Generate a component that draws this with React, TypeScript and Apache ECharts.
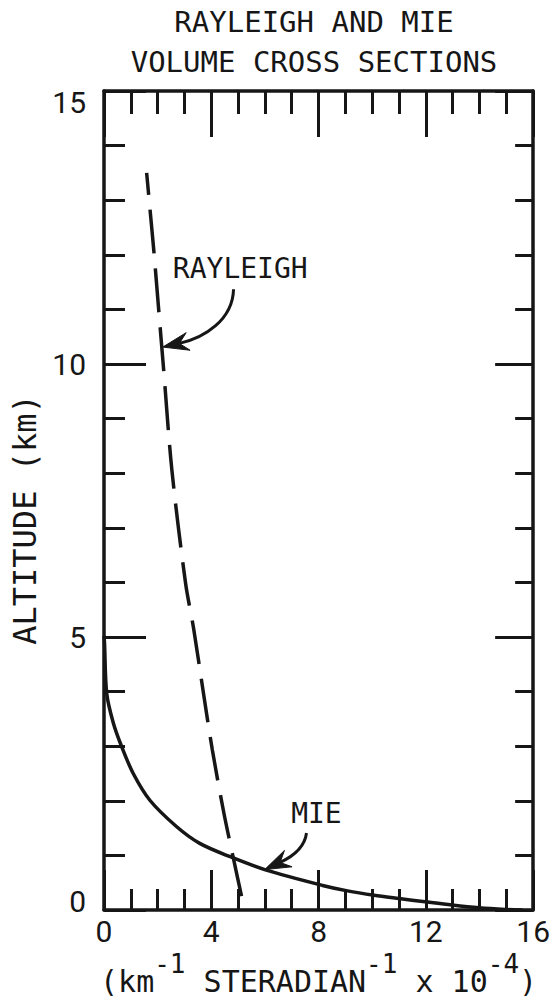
import React, { useEffect, useRef } from 'react';
import * as echarts from 'echarts';

const FONT = '"DejaVu Sans Mono", "Liberation Mono", monospace';
const NUM_FONT = 'Roboto, "Liberation Sans", sans-serif';
const INK = '#161616';

const titleText = 'RAYLEIGH AND MIE\nVOLUME CROSS SECTIONS';
const yAxisTitle = 'ALTITUDE (km)';

// Rayleigh volume cross section (dashed), x in 1e-4 km^-1 sr^-1, y altitude km
const rayleighX = [1.59, 1.71, 1.86, 2.04, 2.23, 2.53, 3.04, 3.35, 3.69, 4.04, 4.46, 4.81, 5.2];
const rayleighY = [13.5, 12.86, 12.06, 10.99, 9.86, 8.06, 5.99, 5.13, 4.03, 2.93, 1.8, 0.98, 0.09];

// Mie volume cross section (solid)
const mieX = [0, 0.02, 0.1, 0.35, 0.66, 1.09, 1.71, 2.7, 3.57, 4.68, 6.05, 8.15, 9.08, 10.07, 11.0, 11.97, 12.97, 13.98, 14.97, 15.6];
const mieY = [5.02, 4.88, 3.97, 3.42, 2.99, 2.5, 2.01, 1.53, 1.22, 0.98, 0.73, 0.45, 0.35, 0.27, 0.21, 0.15, 0.09, 0.04, 0.01, 0];

// annotation labels and curved arrows (data coordinates)
const labelNames = ['RAYLEIGH', 'MIE'];
const labelPos = [[5.08, 11.75], [7.92, 1.77]];
const arrowStart = [[4.83, 11.37], [7.55, 1.41]];
const arrowCp1 = [[4.8, 10.81], [7.47, 1.1]];
const arrowCp2 = [[3.75, 10.48], [6.91, 0.95]];
const arrowTip = [[2.19, 10.31], [5.99, 0.74]];

export default function App() {
  const ref = useRef<HTMLDivElement>(null);
  useEffect(() => {
    if (!ref.current) return;
    const chart = echarts.init(ref.current, null, { renderer: 'svg' });
    const tickStyle = { color: INK, width: 3 };
    const baseX = {
      type: 'value', min: 0, max: 16, interval: 4,
      axisLine: { show: true, onZero: false, lineStyle: { color: INK, width: 3.5 } },
      splitLine: { show: false },
    };
    const baseY = {
      type: 'value', min: 0, max: 15, interval: 5,
      axisLine: { show: true, onZero: false, lineStyle: { color: INK, width: 3.5 } },
      splitLine: { show: false },
    };
    const option: any = {
      animation: false,
      backgroundColor: '#ffffff',
      title: {
        text: titleText, left: 314, top: 2, textAlign: 'center', padding: 0,
        textStyle: { fontFamily: FONT, fontSize: 29, fontWeight: 'normal', color: INK, lineHeight: 40 },
      },
      grid: { left: 104, top: 91, width: 430, height: 819 },
      xAxis: [
        {
          ...baseX, position: 'bottom',
          axisTick: { show: true, inside: true, length: 40, lineStyle: tickStyle },
          minorTick: { show: true, splitNumber: 4, length: 21, lineStyle: tickStyle },
          axisLabel: { fontFamily: NUM_FONT, fontSize: 30, color: INK, margin: 6 },
          name: '{a|(km}{s|-1}{a| STERADIAN}{s|-1}{a| x 10}{s|-4}{a|)}',
          nameLocation: 'middle', nameGap: 41,
          nameTextStyle: {
            rich: {
              a: { fontFamily: FONT, fontSize: 30, color: INK, lineHeight: 45, verticalAlign: 'bottom' },
              s: { fontFamily: FONT, fontSize: 26, color: INK, lineHeight: 28, verticalAlign: 'top' },
            },
          },
        },
        {
          ...baseX, position: 'top',
          axisTick: { show: true, inside: true, length: 46, lineStyle: tickStyle },
          minorTick: { show: true, splitNumber: 4, length: 23, lineStyle: tickStyle },
          axisLabel: { show: false },
        },
      ],
      yAxis: [
        {
          ...baseY, position: 'left',
          axisTick: { show: true, inside: true, length: 42, lineStyle: tickStyle },
          minorTick: { show: true, splitNumber: 5, length: 21, lineStyle: tickStyle },
          axisLabel: {
            fontFamily: NUM_FONT, fontSize: 30, color: INK, margin: 18,
            formatter: (v: number) => (v === 15 ? `{t|${v}}` : v === 0 ? `{b|${v}}` : `{n|${v}}`),
            rich: {
              t: { fontFamily: NUM_FONT, fontSize: 30, color: INK, padding: [22, 0, 0, 0] },
              b: { fontFamily: NUM_FONT, fontSize: 30, color: INK, padding: [0, 0, 18, 0] },
              n: { fontFamily: NUM_FONT, fontSize: 30, color: INK },
            },
          },
          name: yAxisTitle, nameLocation: 'middle', nameRotate: 90, nameGap: 56,
          nameTextStyle: { fontFamily: FONT, fontSize: 32, color: INK, padding: [0, 38, 0, 0] },
        },
        {
          ...baseY, position: 'right',
          axisTick: { show: true, inside: true, length: 38, lineStyle: tickStyle },
          minorTick: { show: true, splitNumber: 5, length: 18, lineStyle: tickStyle },
          axisLabel: { show: false },
        },
      ],
      series: [
        {
          name: 'MIE', type: 'line', xAxisIndex: 0, yAxisIndex: 0,
          data: mieX.map((x, i) => [x, mieY[i]]),
          smooth: 0.3, showSymbol: false, symbol: 'none',
          lineStyle: { color: INK, width: 3.5 },
        },
        {
          name: 'RAYLEIGH', type: 'line', xAxisIndex: 0, yAxisIndex: 0,
          data: rayleighX.map((x, i) => [x, rayleighY[i]]),
          smooth: 0.3, showSymbol: false, symbol: 'none',
          lineStyle: { color: INK, width: 3.5, type: [44, 15], dashOffset: 22 },
        },
      ],
    };
    chart.setOption(option);

    const px = (p: number[]) => chart.convertToPixel({ seriesIndex: 0 }, p) as number[];
    const graphics: any[] = [];
    labelNames.forEach((name, i) => {
      const lp = px(labelPos[i]);
      graphics.push({
        type: 'text', x: lp[0], y: lp[1],
        style: { text: name, fontFamily: FONT, fontSize: 28, fill: INK, align: 'center', verticalAlign: 'middle' },
      });
      const s = px(arrowStart[i]);
      const c1 = px(arrowCp1[i]);
      const c2 = px(arrowCp2[i]);
      const t = px(arrowTip[i]);
      let dx = t[0] - c2[0];
      let dy = t[1] - c2[1];
      const len = Math.hypot(dx, dy) || 1;
      dx /= len; dy /= len;
      const nx = -dy, ny = dx;
      const L = 26, W = 9, notch = 17;
      const back1 = [t[0] - dx * L + nx * W, t[1] - dy * L + ny * W];
      const back2 = [t[0] - dx * L - nx * W, t[1] - dy * L - ny * W];
      const mid = [t[0] - dx * notch, t[1] - dy * notch];
      graphics.push({
        type: 'bezierCurve',
        shape: { x1: s[0], y1: s[1], cpx1: c1[0], cpy1: c1[1], cpx2: c2[0], cpy2: c2[1], x2: mid[0], y2: mid[1] },
        style: { stroke: INK, lineWidth: 3, fill: 'none' },
      });
      graphics.push({
        type: 'polygon',
        shape: { points: [t, back1, mid, back2] },
        style: { fill: INK, stroke: INK, lineWidth: 1 },
      });
    });
    chart.setOption({ graphic: graphics });
    return () => chart.dispose();
  }, []);
  return (
    <div
      ref={ref}
      style={{ position: 'absolute', left: 0, top: 0, width: 553, height: 1005, background: '#fff' }}
    />
  );
}
